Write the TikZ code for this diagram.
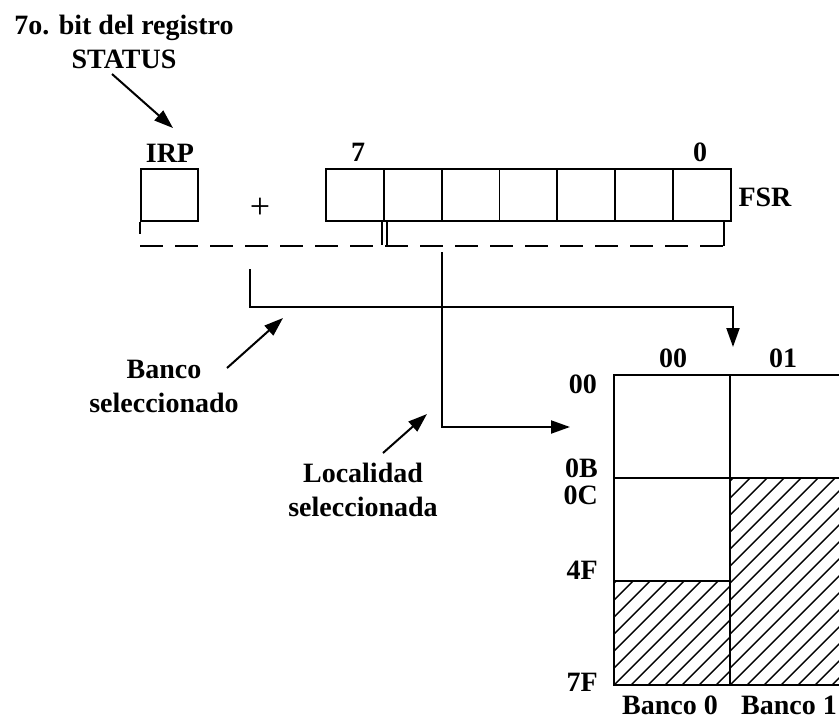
\documentclass[tikz,border=0pt]{standalone}
\usepackage{fontspec}
\setmainfont{Liberation Serif}
\usetikzlibrary{arrows.meta}
\tikzset{
  lbl/.style={font=\fontsize{28}{34}\selectfont\bfseries, inner sep=0pt, align=center},
  sl/.style={font=\fontsize{28}{34}\selectfont\bfseries, inner sep=0pt},
  cell/.style={draw, line width=1.8pt, minimum width=57.86pt, minimum height=52pt, inner sep=0pt, anchor=north west},
  wire/.style={line width=2pt},
  tip/.style={-{Triangle[length=19pt,width=13pt]}},
  dashline/.style={line width=2.6pt, dash pattern=on 23pt off 12pt},
  hatch/.style={line width=1.4pt},
  memline/.style={line width=1.8pt}
}
\begin{document}
\begin{tikzpicture}[x=1pt,y=-1pt]
\useasboundingbox (0,0) rectangle (839,721);
\fill[white] (0,0) rectangle (839,721);

% top label
\node[lbl] (status) at (124,42) {7o. bit del registro\\STATUS};
\coordinate (statusTail) at (112,74);
\coordinate (statusTip) at (173,128);
\draw[wire,tip] (statusTail) -- (statusTip);

% IRP
\node[sl] (irpl) at (170,153) {IRP};
\node[cell, minimum width=57pt] (irp) at (140,168) {};
\node[inner sep=0pt, font=\fontsize{36}{40}\selectfont] (plus) at (260,208) {+};

% FSR cells
\foreach \k in {1,...,7} {
  \node[cell] (fsr\k) at ({325+(\k-1)*57.86},168) {};
}
\node[sl] (b7) at (358,152) {7};
\node[sl] (b0) at (700,152) {0};
\node[sl] (fsrl) at (765,197) {FSR};

% ticks and dashed line
\draw[wire] (irp.south west) -- ++(0,12) coordinate (ltick);
\draw[wire] (fsr1.south east) ++(-2.5,0) coordinate (dt1) -- ++(0,23);
\draw[wire] (fsr1.south east) ++(2.5,0) coordinate (dt2) -- ++(0,23);
\coordinate (dstart) at (140,246);
\coordinate (dend) at (724,246);
\draw[wire] (724,220) -- (dend);
\draw[dashline] (dstart) -- (dend);

% bank connector
\coordinate (bankStart) at (250,269);
\coordinate (bankEnd) at (733,347);
\draw[wire,tip] (bankStart) -- (250,307) -- (733,307) -- (bankEnd);

% location connector
\coordinate (locStart) at (442,252);
\coordinate (locEnd) at (570,427);
\draw[wire,tip] (locStart) -- (442,427) -- (locEnd);

% Banco label
\node[lbl] (banco) at (164,386) {Banco\\seleccionado};
\coordinate (bancoTail) at (227,368);
\coordinate (bancoTip) at (283,318);
\draw[wire,tip] (bancoTail) -- (bancoTip);

% Localidad label
\node[lbl] (local) at (363,490) {Localidad\\seleccionada};
\coordinate (locTail) at (383,453);
\coordinate (locTip) at (427,414);
\draw[wire,tip] (locTail) -- (locTip);

% memory hatching
\begin{scope}
\clip (614,581) rectangle (730,685);
\foreach \i in {-12,...,8} \draw[hatch] ({614+\i*17},685) -- ++(200,-200);
\end{scope}
\begin{scope}
\clip (730,478) rectangle (839,685);
\foreach \i in {-14,...,8} \draw[hatch] ({730+\i*17},685) -- ++(260,-260);
\end{scope}

% memory frame
\coordinate (mTL) at (614,375);
\coordinate (mBR) at (850,685);
\draw[memline] (850,375) -- (614,375) -- (614,685) -- (850,685);
\draw[memline] (730,375) -- (730,685);
\draw[memline] (614,478) -- (850,478);
\draw[memline] (614,581) -- (730,581);

% memory labels
\node[sl] (h00) at (673,358) {00};
\node[sl] (h01) at (783,358) {01};
\node[sl, anchor=east] (r00) at (597,384) {00};
\node[sl, anchor=east] (r0B) at (598,468) {0B};
\node[sl, anchor=east] (r0C) at (598,495) {0C};
\node[sl, anchor=east] (r4F) at (598,570) {4F};
\node[sl, anchor=east] (r7F) at (598,682) {7F};
\node[sl] (bk0) at (670,705) {Banco 0};
\node[sl] (bk1) at (789,705) {Banco 1};
\end{tikzpicture}
\end{document}
